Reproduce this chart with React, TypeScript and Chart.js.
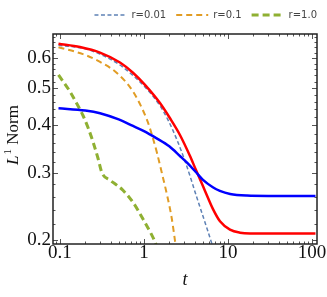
import React, { useEffect, useRef } from 'react';
import { Chart, registerables } from 'chart.js';

Chart.register(...registerables);

// ---- data ----
const redT = [0.096, 0.173, 0.2994, 0.518, 0.74, 1.028, 1.55, 2.04, 2.68, 3.53, 4.16, 5.33, 6.63, 8.03, 10.56, 13.9, 18.3, 30, 110];
const redV = [0.654, 0.641, 0.620, 0.584, 0.549, 0.510, 0.457, 0.417, 0.377, 0.332, 0.305, 0.269, 0.241, 0.224, 0.213, 0.209, 0.208, 0.208, 0.208];

const blueT = [0.096, 0.2, 0.3, 0.5, 0.74, 1.0, 1.4, 2.0, 2.68, 3.3, 4.16, 5.0, 6.6, 8.0, 10.6, 16.8, 30, 110];
const blueV = [0.443, 0.437, 0.430, 0.414, 0.398, 0.386, 0.370, 0.352, 0.332, 0.318, 0.301, 0.288, 0.275, 0.269, 0.264, 0.2615, 0.261, 0.261];

const r001T = [0.096, 0.2, 0.3, 0.5, 0.74, 1.0, 1.55, 1.93, 2.47, 3.22, 4.22, 5.6, 6.45, 7.5];
const r001V = [0.648, 0.634, 0.614, 0.578, 0.540, 0.507, 0.450, 0.413, 0.366, 0.313, 0.260, 0.215, 0.195, 0.174];

const r01T = [0.096, 0.188, 0.3, 0.476, 0.74, 1.086, 1.24, 1.43, 1.63, 1.87, 2.14, 2.34, 2.6];
const r01V = [0.640, 0.614, 0.586, 0.548, 0.490, 0.413, 0.378, 0.338, 0.300, 0.264, 0.228, 0.199, 0.167];

const r1T = [0.096, 0.1315, 0.159, 0.188, 0.215, 0.247, 0.283, 0.316, 0.393, 0.49, 0.562, 0.74, 0.973, 1.24, 1.35, 1.5];
const r1V = [0.542, 0.490, 0.455, 0.424, 0.395, 0.362, 0.328, 0.300, 0.287, 0.277, 0.270, 0.251, 0.227, 0.206, 0.198, 0.186];

const legendLabels = ['r=0.01', 'r=0.1', 'r=1.0'];

const xTickValues = [0.1, 1, 10, 100];
const yTickValues = [0.2, 0.3, 0.4, 0.5, 0.6];
const xMinorTicks = [0.09, 0.2, 0.3, 0.4, 0.5, 0.6, 0.7, 0.8, 0.9, 2, 3, 4, 5, 6, 7, 8, 9, 20, 30, 40, 50, 60, 70, 80, 90];
const yMinorTicks = [0.22, 0.24, 0.26, 0.28, 0.32, 0.34, 0.36, 0.38, 0.42, 0.44, 0.46, 0.48, 0.52, 0.54, 0.56, 0.58, 0.62, 0.64, 0.66, 0.68];

const X_MIN = 0.0826;
const X_MAX = 114.7;
const Y_MIN = 0.1952;
const Y_MAX = 0.6935;

const toPoints = (t: number[], v: number[]) => t.map((x, i) => ({ x, y: v[i] }));

const SERIF = '"Liberation Serif", "Times New Roman", serif';

const frameTicks = {
  id: 'frameTicks',
  afterDatasetsDraw(chart: any) {
    const { ctx, chartArea: a, scales } = chart;
    const xs = scales.x;
    const ys = scales.y;
    ctx.save();
    ctx.strokeStyle = '#555';
    ctx.lineWidth = 1;
    const vt = (v: number, len: number) => {
      const p = Math.round(xs.getPixelForValue(v)) + 0.5;
      ctx.beginPath();
      ctx.moveTo(p, a.bottom);
      ctx.lineTo(p, a.bottom - len);
      ctx.moveTo(p, a.top);
      ctx.lineTo(p, a.top + len);
      ctx.stroke();
    };
    const ht = (v: number, len: number) => {
      const p = Math.round(ys.getPixelForValue(v)) + 0.5;
      ctx.beginPath();
      ctx.moveTo(a.left, p);
      ctx.lineTo(a.left + len, p);
      ctx.moveTo(a.right, p);
      ctx.lineTo(a.right - len, p);
      ctx.stroke();
    };
    xTickValues.forEach((v) => vt(v, 5));
    xMinorTicks.forEach((v) => vt(v, 2.5));
    yTickValues.forEach((v) => ht(v, 5));
    yMinorTicks.forEach((v) => ht(v, 2.5));
    ctx.strokeStyle = '#222';
    ctx.lineWidth = 1.5;
    ctx.strokeRect(a.left, a.top, a.right - a.left, a.bottom - a.top);
    ctx.restore();
  },
};

// y-axis title "L¹ Norm" with an italic L and a raised 1
const yTitle = {
  id: 'yTitle',
  afterDraw(chart: any) {
    const { ctx, chartArea: a } = chart;
    const cy = (a.top + a.bottom) / 2 - 4;
    const big = `17px ${SERIF}`;
    const bigI = `italic 17px ${SERIF}`;
    const small = `11px ${SERIF}`;
    ctx.save();
    ctx.fillStyle = '#111';
    ctx.textBaseline = 'alphabetic';
    ctx.textAlign = 'left';
    ctx.font = bigI;
    const wL = ctx.measureText('L').width;
    ctx.font = small;
    const w1 = ctx.measureText('1').width;
    ctx.font = big;
    const wN = ctx.measureText(' Norm').width;
    const total = wL + w1 + 1 + wN;
    ctx.translate(12, cy);
    ctx.rotate(-Math.PI / 2);
    let x = -total / 2;
    const base = 5.5;
    ctx.font = bigI;
    ctx.fillText('L', x, base);
    x += wL + 1;
    ctx.font = small;
    ctx.fillText('1', x, base - 7);
    x += w1;
    ctx.font = big;
    ctx.fillText(' Norm', x, base);
    ctx.restore();
  },
};

export default function App() {
  const ref = useRef<HTMLCanvasElement>(null);

  useEffect(() => {
    const line = (label: string, t: number[], v: number[], color: string, width: number, dash: number[], order: number) => ({
      label,
      data: toPoints(t, v),
      borderColor: color,
      backgroundColor: color,
      borderWidth: width,
      borderDash: dash,
      pointRadius: 0,
      fill: false,
      cubicInterpolationMode: 'monotone' as const,
      order,
    });

    const chart = new Chart(ref.current as HTMLCanvasElement, {
      type: 'line',
      data: {
        datasets: [
          line(legendLabels[0], r001T, r001V, '#5e81b5', 1.5, [4, 2.5], 1),
          line(legendLabels[1], r01T, r01V, '#e19c24', 2, [6, 4], 1),
          line(legendLabels[2], r1T, r1V, '#8fb032', 3, [7, 4], 1),
          line('L1 norm (blue)', blueT, blueV, '#0000ff', 2.5, [], 0),
          line('L1 norm (red)', redT, redV, '#ff0000', 2.5, [], 0),
        ],
      },
      options: {
        responsive: false,
        animation: false,
        devicePixelRatio: 1,
        layout: { padding: 0, autoPadding: false },
        plugins: {
          legend: {
            display: true,
            position: 'top',
            align: 'end',
            labels: {
              usePointStyle: true,
              pointStyle: 'line',
              pointStyleWidth: 32,
              padding: 10,
              color: '#444',
              font: { family: '"DejaVu Sans", sans-serif', size: 10 },
              generateLabels: (c: any) =>
                c.data.datasets.map((ds: any, i: number) => ({
                  text: ds.label,
                  fillStyle: ds.borderColor,
                  strokeStyle: ds.borderColor,
                  lineWidth: ds.borderWidth,
                  lineDash: ds.borderDash,
                  lineCap: 'butt',
                  pointStyle: 'line',
                  fontColor: '#444',
                  hidden: false,
                  datasetIndex: i,
                })),
              filter: (item: any) => legendLabels.includes(item.text),
            },
          },
          tooltip: { enabled: false },
        },
        scales: {
          x: {
            type: 'logarithmic',
            position: 'bottom',
            min: X_MIN,
            max: X_MAX,
            afterBuildTicks: (s: any) => {
              s.ticks = xTickValues.map((v) => ({ value: v }));
            },
            afterFit: (s: any) => {
              s.height = 53;
            },
            grid: { display: false, drawTicks: false },
            border: { display: false },
            ticks: {
              autoSkip: false,
              maxRotation: 0,
              padding: -2,
              color: '#111',
              font: { family: SERIF, size: 19 },
              callback: (v: any) => String(v),
            },
            title: {
              display: true,
              text: 't',
              color: '#111',
              font: { family: SERIF, size: 18, style: 'italic' },
              padding: { top: 0, bottom: 6 },
            },
          },
          y: {
            type: 'logarithmic',
            position: 'left',
            min: Y_MIN,
            max: Y_MAX,
            afterBuildTicks: (s: any) => {
              s.ticks = yTickValues.map((v) => ({ value: v }));
            },
            afterFit: (s: any) => {
              s.width = 53;
            },
            grid: { display: false, drawTicks: false },
            border: { display: false },
            ticks: {
              autoSkip: false,
              padding: 2,
              color: '#111',
              font: { family: SERIF, size: 19 },
              callback: (v: any) => String(v),
            },
            title: { display: false },
          },
          x2: {
            type: 'linear',
            position: 'top',
            display: true,
            grid: { display: false, drawTicks: false },
            border: { display: false },
            ticks: { display: false },
            afterFit: (s: any) => {
              s.height = 4;
            },
          },
          y2: {
            type: 'linear',
            position: 'right',
            display: true,
            grid: { display: false, drawTicks: false },
            border: { display: false },
            ticks: { display: false },
            afterFit: (s: any) => {
              s.width = 10;
            },
          },
        },
      } as any,
      plugins: [frameTicks, yTitle],
    });
    return () => chart.destroy();
  }, []);

  return (
    <div style={{ position: 'fixed', left: 0, top: 0, width: 327, height: 297, background: '#fff' }}>
      <canvas ref={ref} width={327} height={297} style={{ display: 'block', width: 327, height: 297 }} />
    </div>
  );
}
